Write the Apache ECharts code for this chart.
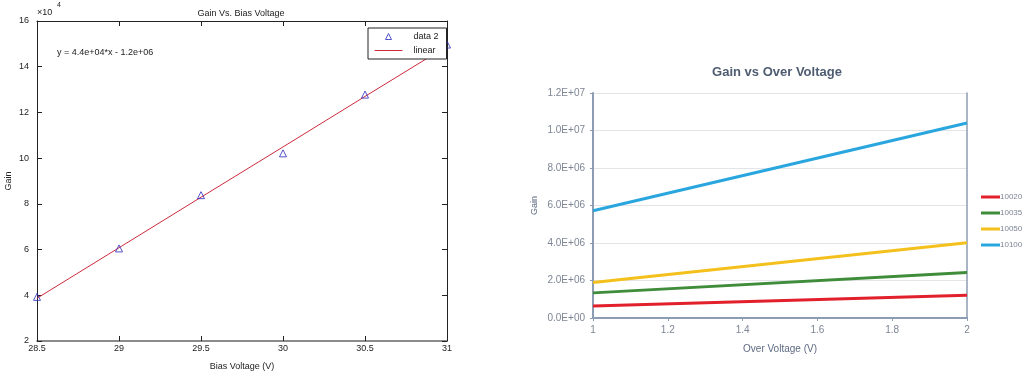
<!DOCTYPE html>
<html><head><meta charset="utf-8">
<script src="https://cdn.jsdelivr.net/npm/echarts@6/dist/echarts.min.js"></script>
<style>html,body{margin:0;padding:0;background:#fff}#c{width:1022px;height:376px}</style>
</head><body><div id="c"></div>
<script>
// Left chart: Gain vs Bias Voltage
const biasVoltage = [28.5, 29, 29.5, 30, 30.5, 31];
const gainMeasured = [39300, 60500, 83800, 102100, 127800, 149700];
const gainLinearFit = [38700, 60800, 82900, 104900, 127000, 149000];
// Right chart: Gain vs Over Voltage
const overVoltage = [1, 2];
const seriesNames = ['10020', '10035', '10050', '10100'];
const gain10020 = [640000, 1210000];
const gain10035 = [1340000, 2430000];
const gain10050 = [1890000, 4010000];
const gain10100 = [5720000, 10400000];
const rightColors = ['#e2202c', '#3f8c3a', '#f4c01c', '#2aa6df'];

function sci(v) {
  if (v === 0) return '0.0E+00';
  const e = Math.floor(Math.log10(Math.abs(v)) + 1e-9);
  const m = v / Math.pow(10, e);
  return m.toFixed(1) + 'E+' + (e < 10 ? '0' + e : e);
}

const chart = echarts.init(document.getElementById('c'), null, {renderer: 'canvas'});
const leftFont = 'Liberation Sans, Arial, sans-serif';
const rightFont = 'Liberation Sans, Arial, sans-serif';
const rightGray = '#7d8594';
const frameColor = '#8c9cb2';

const pairs = (xs, ys) => xs.map((x, i) => [x, ys[i]]);
const rightData = [gain10020, gain10035, gain10050, gain10100];

chart.setOption({
  animation: false,
  title: [
    {text: 'Gain Vs. Bias Voltage', left: 236, top: 4, textAlign: 'center',
     textStyle: {fontSize: 9, fontWeight: 'normal', color: '#222', fontFamily: leftFont}},
    {text: 'Gain vs Over Voltage', left: 772, top: 61, textAlign: 'center',
     textStyle: {fontSize: 13, fontWeight: 'bold', color: '#4e5c72', fontFamily: rightFont}}
  ],
  graphic: [
    {type: 'text', left: 37, top: 8, style: {text: '×10', fontSize: 9, fill: '#222', fontFamily: leftFont}},
    {type: 'text', left: 57, top: 2, style: {text: '4', fontSize: 7, fill: '#222', fontFamily: leftFont}},
    {type: 'text', left: 57, top: 48, style: {text: 'y = 4.4e+04*x - 1.2e+06', fontSize: 9, fill: '#222', fontFamily: leftFont}}
  ],
  legend: [
    {data: [{name: 'data 2', icon: 'path://M0,3.5 M11,7 L14,1 L17,7 Z M28,3.5',
             itemStyle: {color: 'rgba(0,0,0,0)', borderColor: '#2b2bbd', borderWidth: 1}},
            {name: 'linear', icon: 'path://M0,3 L28,3 L28,4 L0,4 Z', itemStyle: {color: '#cc2a3c'}}],
     orient: 'vertical', left: 368, top: 28, itemWidth: 28, itemHeight: 7, itemGap: 5,
     backgroundColor: '#fff', borderColor: '#222', borderWidth: 1, padding: [4, 8, 4, 6],
     textStyle: {fontSize: 9, color: '#222', fontFamily: leftFont, padding: [0, 0, 0, 6]}},
    {data: seriesNames.map(n => ({name: n, icon: 'rect'})), orient: 'vertical', left: 976, top: 187,
     itemWidth: 19, itemHeight: 3, itemGap: 6,
     textStyle: {fontSize: 8, color: rightGray, fontFamily: rightFont, lineHeight: 10, padding: [0, 0, 0, -5]}}
  ],
  grid: [
    {left: 37, top: 21, right: 575, bottom: 32},
    {left: 593, top: 93, right: 55, bottom: 58}
  ],
  xAxis: [
    {gridIndex: 0, type: 'value', min: 28.5, max: 31, interval: 0.5, position: 'bottom',
     name: 'Bias Voltage (V)', nameLocation: 'middle', nameGap: 21,
     nameTextStyle: {fontSize: 9, color: '#222', fontFamily: leftFont},
     axisLine: {lineStyle: {color: '#666', width: 1.5}},
     axisTick: {inside: true, length: 5, lineStyle: {color: '#222'}},
     axisLabel: {fontSize: 9, color: '#222', fontFamily: leftFont, margin: 3},
     splitLine: {show: false}},
    {gridIndex: 0, type: 'value', min: 28.5, max: 31, interval: 0.5, position: 'top',
     axisLine: {lineStyle: {color: '#222', width: 1}},
     axisTick: {inside: true, length: 5, lineStyle: {color: '#222'}},
     axisLabel: {show: false}, splitLine: {show: false}},
    {gridIndex: 1, type: 'value', min: 1, max: 2, interval: 0.2, position: 'bottom',
     name: 'Over Voltage (V)', nameLocation: 'middle', nameGap: 26,
     nameTextStyle: {fontSize: 10, color: '#5d6a80', fontFamily: rightFont},
     axisLine: {lineStyle: {color: frameColor, width: 2}},
     axisTick: {length: 3, lineStyle: {color: frameColor}},
     axisLabel: {fontSize: 10, color: rightGray, fontFamily: rightFont, margin: 7},
     splitLine: {show: false}},
    {gridIndex: 1, type: 'value', min: 1, max: 2, interval: 0.2, position: 'top',
     axisLine: {lineStyle: {color: frameColor, width: 1.5}},
     axisTick: {show: false}, axisLabel: {show: false}, splitLine: {show: false}}
  ],
  yAxis: [
    {gridIndex: 0, type: 'value', min: 20000, max: 160000, interval: 20000, position: 'left',
     name: 'Gain', nameLocation: 'middle', nameGap: 24,
     nameTextStyle: {fontSize: 9, color: '#222', fontFamily: leftFont},
     axisLine: {lineStyle: {color: '#222', width: 1}},
     axisTick: {inside: true, length: 5, lineStyle: {color: '#222'}},
     axisLabel: {fontSize: 9, color: '#222', fontFamily: leftFont, margin: 8,
                 formatter: v => String(v / 10000)},
     splitLine: {show: false}},
    {gridIndex: 0, type: 'value', min: 20000, max: 160000, interval: 20000, position: 'right',
     axisLine: {lineStyle: {color: '#222', width: 1}},
     axisTick: {inside: true, length: 5, lineStyle: {color: '#222'}},
     axisLabel: {show: false}, splitLine: {show: false}},
    {gridIndex: 1, type: 'value', min: 0, max: 12000000, interval: 2000000, position: 'left',
     name: 'Gain', nameLocation: 'middle', nameGap: 54,
     nameTextStyle: {fontSize: 9, color: '#5d6a80', fontFamily: rightFont},
     axisLine: {show: true, lineStyle: {color: frameColor, width: 2}},
     axisTick: {show: true, length: 3, lineStyle: {color: frameColor}},
     axisLabel: {fontSize: 10, color: rightGray, fontFamily: rightFont, margin: 8, formatter: sci},
     splitLine: {lineStyle: {color: '#e2e4e8', width: 1}}},
    {gridIndex: 1, type: 'value', min: 0, max: 12000000, interval: 2000000, position: 'right',
     axisLine: {show: true, lineStyle: {color: frameColor, width: 1.5}},
     axisTick: {show: false}, axisLabel: {show: false}, splitLine: {show: false}}
  ],
  series: [
    {name: 'linear', type: 'line', xAxisIndex: 0, yAxisIndex: 0, data: pairs(biasVoltage, gainLinearFit),
     symbol: 'none', lineStyle: {color: '#cc2a3c', width: 1}, itemStyle: {color: '#cc2a3c'}, z: 2},
    {name: 'data 2', type: 'scatter', xAxisIndex: 0, yAxisIndex: 0, data: pairs(biasVoltage, gainMeasured),
     symbol: 'triangle', symbolSize: 7,
     itemStyle: {color: 'rgba(0,0,0,0)', borderColor: '#2b2bbd', borderWidth: 1}, z: 3},
  ].concat(seriesNames.map((n, i) => ({
    name: n, type: 'line', xAxisIndex: 2, yAxisIndex: 2, data: pairs(overVoltage, rightData[i]),
    symbol: 'none', lineStyle: {color: rightColors[i], width: 3}, itemStyle: {color: rightColors[i]}
  })))
});
</script></body></html>
